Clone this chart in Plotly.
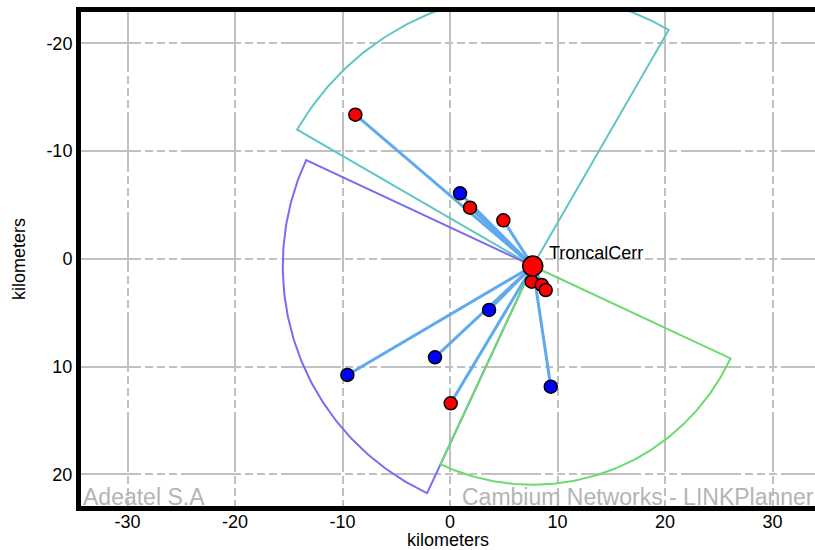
import numpy as np
import plotly.graph_objects as go

# ---- data ----
hub_name = "TroncalCerr"
hub_x = [7.69]
hub_y = [0.67]

red_x = [-8.81, 1.86, 4.96, 7.60, 8.53, 8.90, 0.06]
red_y = [-13.37, -4.74, -3.57, 2.13, 2.43, 2.90, 13.41]
blue_x = [0.93, 3.63, -1.40, -9.55, 9.37]
blue_y = [-6.08, 4.75, 9.14, 10.78, 11.87]

# sectors: azimuth (deg, clockwise from north), beamwidth (deg), radius (km)
sector_azimuth = [345, 250, 160]
sector_width = [90, 90, 90]
sector_radius = [25.3, 23.25, 20.3]
sector_color = ["#5EC6C2", "#7B6CF2", "#6ADC6E"]

x_ticks = [-30, -20, -10, 0, 10, 20, 30]
y_ticks = [-20, -10, 0, 10, 20]

FONT = "Arial, Liberation Sans, sans-serif"
fig = go.Figure()

# sectors
for az, bw, r, c in zip(sector_azimuth, sector_width, sector_radius, sector_color):
    angs = np.radians(np.linspace(az - bw / 2, az + bw / 2, 120))
    xs = [hub_x[0]] + list(hub_x[0] + r * np.sin(angs)) + [hub_x[0]]
    ys = [hub_y[0]] + list(hub_y[0] - r * np.cos(angs)) + [hub_y[0]]
    fig.add_trace(go.Scatter(x=xs, y=ys, mode="lines", line=dict(color=c, width=2),
                             hoverinfo="skip", showlegend=False))

# links
lx, ly = [], []
for x, y in zip(red_x + blue_x, red_y + blue_y):
    lx += [hub_x[0], x, None]
    ly += [hub_y[0], y, None]
fig.add_trace(go.Scatter(x=lx, y=ly, mode="lines", line=dict(color="#5EAAEC", width=3),
                         showlegend=False, hoverinfo="skip"))

# remotes
fig.add_trace(go.Scatter(x=red_x, y=red_y, mode="markers",
                         marker=dict(color="#FF0000", size=13, line=dict(color="black", width=1.5)),
                         showlegend=False))
fig.add_trace(go.Scatter(x=blue_x, y=blue_y, mode="markers",
                         marker=dict(color="#0000FF", size=13, line=dict(color="black", width=1.5)),
                         showlegend=False))
fig.add_trace(go.Scatter(x=hub_x, y=hub_y, mode="markers",
                         marker=dict(color="#FF0000", size=20, line=dict(color="black", width=1.5)),
                         showlegend=False))

fig.add_annotation(x=hub_x[0], y=hub_y[0], text=hub_name, showarrow=False,
                   xanchor="left", yanchor="middle", xshift=14, yshift=13,
                   font=dict(family=FONT, size=18, color="black"))

fig.add_annotation(xref="paper", yref="paper", x=0.0, y=0.0, text="Adeatel S.A",
                   showarrow=False, xanchor="left", yanchor="bottom", xshift=0, yshift=-6,
                   font=dict(family=FONT, size=23, color="#B4B4B4"))
fig.add_annotation(xref="paper", yref="paper", x=(462 - 81) / 734, y=0.0,
                   text="Cambium Networks - LINKPlanner",
                   showarrow=False, xanchor="left", yanchor="bottom", xshift=-2, yshift=-6,
                   font=dict(family=FONT, size=23, color="#B4B4B4"))

grid_dash = "60px,4px,8px,4px,8px,4px,8px,4px"
fig.update_xaxes(range=[-34.33, 33.95], tickvals=x_ticks, ticktext=[str(v) for v in x_ticks],
                 showgrid=True, gridcolor="#C0C0C0", gridwidth=1.5, griddash=grid_dash,
                 zeroline=False, showline=True, linecolor="black", linewidth=5, mirror=True,
                 ticks="", ticklabelstandoff=-5, tickfont=dict(family=FONT, size=18, color="black"),
                 title=dict(text="kilometers", font=dict(family=FONT, size=18, color="black"), standoff=8))
fig.update_yaxes(range=[22.94, -22.9], tickvals=y_ticks, ticktext=[str(v) for v in y_ticks],
                 showgrid=True, gridcolor="#C0C0C0", gridwidth=1.5, griddash=grid_dash,
                 zeroline=False, showline=True, linecolor="black", linewidth=5, mirror=False,
                 ticks="", tickfont=dict(family=FONT, size=18, color="black"),
                 title=dict(text="kilometers", font=dict(family=FONT, size=18, color="black"), standoff=18))

fig.update_layout(width=815, height=550, margin=dict(l=81, r=0, t=12, b=44, autoexpand=False),
                  plot_bgcolor="white", paper_bgcolor="white")

fig.write_html("out.html")
